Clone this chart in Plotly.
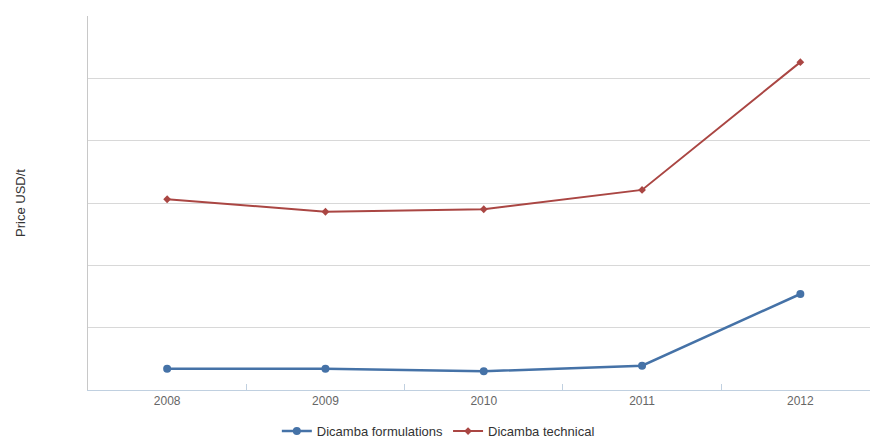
import plotly.graph_objects as go

years = ["2008", "2009", "2010", "2011", "2012"]
formulations = [340, 340, 300, 390, 1540]
technical = [3060, 2860, 2900, 3210, 5260]

BLUE = "#4572A7"
RED = "#AA4643"

fig = go.Figure()
fig.add_trace(go.Scatter(
    x=years, y=formulations, name="Dicamba formulations", mode="lines+markers",
    line=dict(color=BLUE, width=2.5), marker=dict(symbol="circle", size=8, color=BLUE),
))
fig.add_trace(go.Scatter(
    x=years, y=technical, name="Dicamba technical", mode="lines+markers",
    line=dict(color=RED, width=2), marker=dict(symbol="diamond", size=6, color=RED),
))

fig.update_layout(
    width=870, height=439,
    margin=dict(l=88, r=0, t=16, b=49, autoexpand=False),
    paper_bgcolor="white", plot_bgcolor="white",
    font=dict(family="Liberation Sans, Arial, sans-serif", size=12, color="#555"),
    showlegend=True,
    legend=dict(orientation="h", x=0.448, xanchor="center", y=-0.11, yanchor="middle",
                font=dict(size=13, color="#333"), itemwidth=30),
    xaxis=dict(type="category", range=[-0.5, 4.44], showgrid=False,
               showline=True, linecolor="#C0D0E0", linewidth=1,
               ticks="inside", ticklen=6, tickcolor="#C0D0E0",
               tickson="boundaries", tickfont=dict(size=12, color="#666"),
               zeroline=False, fixedrange=True),
    yaxis=dict(range=[0, 6000], dtick=1000, showgrid=True, gridcolor="#D8D8D8",
               showticklabels=False, showline=True, linecolor="#C8C8C8",
               zeroline=False, ticks=""),
    annotations=[dict(text="Price USD/t", xref="paper", yref="paper",
                      x=-0.087, y=0.5, xanchor="center", yanchor="middle",
                      textangle=-90, showarrow=False,
                      font=dict(size=13, color="#333"))],
)

fig.write_html(
    "out.html",
    config={"displayModeBar": False},
    post_script="document.body.style.margin='0';document.body.style.overflow='hidden';",
)
